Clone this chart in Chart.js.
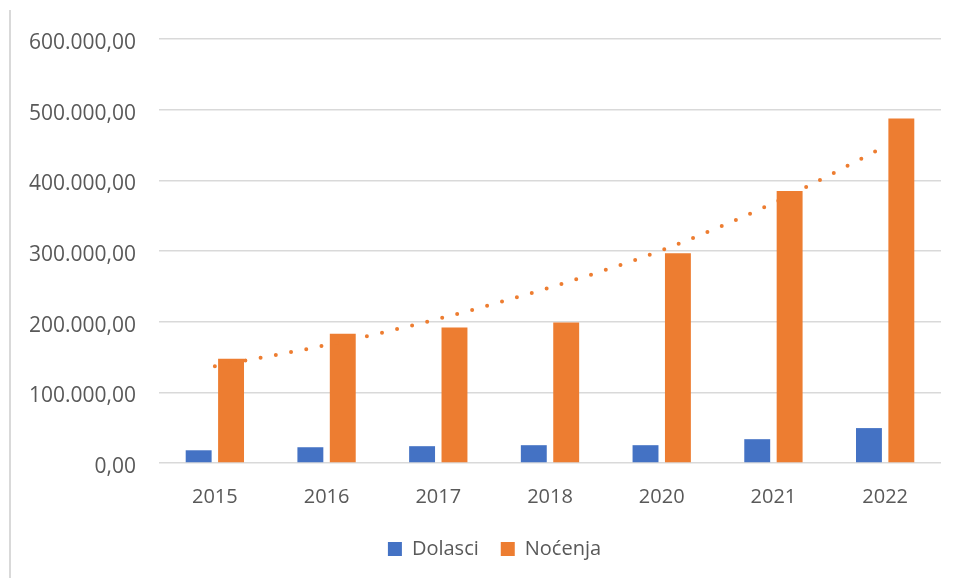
<!DOCTYPE html>
<html>
<head>
<meta charset="utf-8">
<script src="https://cdn.jsdelivr.net/npm/chart.js@4.4.1/dist/chart.umd.min.js"></script>
<style>
  html, body { margin: 0; padding: 0; background: #fff; }
  #wrap { position: relative; width: 958px; height: 578px; }
  #frame { position: absolute; left: 9px; top: 10px; bottom: 0; border-left: 2px solid #d9d9d9; }
  canvas { position: absolute; left: 0; top: 0; }
</style>
</head>
<body>
<div id="wrap">
  <div id="frame"></div>
  <canvas id="chart" width="958" height="578"></canvas>
</div>
<script>
// Values
const years = ['2015', '2016', '2017', '2018', '2020', '2021', '2022'];
const dolasci = [18000, 22300, 23800, 25200, 25200, 33700, 49400];
const nocenja = [147500, 183000, 191600, 198700, 296900, 385000, 487500];
// Excel-style trend line for Noćenja, read at each category centre
const nocenjaTrend = [137000, 167000, 204000, 248500, 301000, 368000, 448000];
const yTicks = [0, 100000, 200000, 300000, 400000, 500000, 600000];

const BLUE = '#4472C4';
const ORANGE = '#ED7D31';
const TEXT = '#595959';
const GRID = '#d9d9d9';
const FONT = 'Open Sans';

// 600000 -> "600.000,00"
function fmt(v) {
  const s = Math.round(v).toString().replace(/\B(?=(\d{3})+(?!\d))/g, '.');
  return s + ',00';
}

// nudge the legend to where Excel put it (centred on the frame, not the box)
const legendShift = {
  id: 'legendShift',
  afterLayout(chart) {
    const lg = chart.legend;
    if (!lg) return;
    lg.left += 24;
    lg.right += 24;
  }
};

const ctx = document.getElementById('chart').getContext('2d');
new Chart(ctx, {
  type: 'bar',
  data: {
    labels: years,
    datasets: [
      {
        label: 'Dolasci',
        data: dolasci,
        backgroundColor: BLUE,
        categoryPercentage: 0.58,
        barPercentage: 0.8,
        order: 1
      },
      {
        label: 'Noćenja',
        data: nocenja,
        backgroundColor: ORANGE,
        categoryPercentage: 0.58,
        barPercentage: 0.8,
        order: 1
      },
      {
        label: 'trend',
        type: 'line',
        data: nocenjaTrend,
        borderColor: ORANGE,
        borderWidth: 4,
        borderDash: [0, 15.5],
        borderCapStyle: 'round',
        cubicInterpolationMode: 'monotone',
        pointRadius: 0,
        fill: false,
        order: 0
      }
    ]
  },
  plugins: [legendShift],
  options: {
    responsive: false,
    animation: false,
    layout: { padding: { left: 0, right: 17, top: 39, bottom: 9 } },
    plugins: {
      legend: {
        position: 'bottom',
        labels: {
          color: TEXT,
          font: { family: FONT, size: 20 },
          boxWidth: 14,
          boxHeight: 14,
          padding: 22,
          filter: item => item.text !== 'trend'
        }
      },
      tooltip: { enabled: false }
    },
    scales: {
      x: {
        grid: { display: false, drawTicks: false },
        border: { display: false },
        ticks: { color: TEXT, font: { family: FONT, size: 20 }, padding: 22 },
        afterFit: s => { s.height = 54; }
      },
      y: {
        min: 0,
        max: 600000,
        afterBuildTicks: s => { s.ticks = yTicks.map(v => ({ value: v })); },
        grid: { color: GRID, lineWidth: 1.5, drawTicks: false },
        border: { display: false },
        ticks: {
          color: TEXT,
          font: { family: FONT, size: 21 },
          padding: 23,
          labelOffset: 4,
          callback: v => fmt(v)
        },
        afterFit: s => { s.width = 159; }
      }
    }
  }
});
</script>
</body>
</html>
